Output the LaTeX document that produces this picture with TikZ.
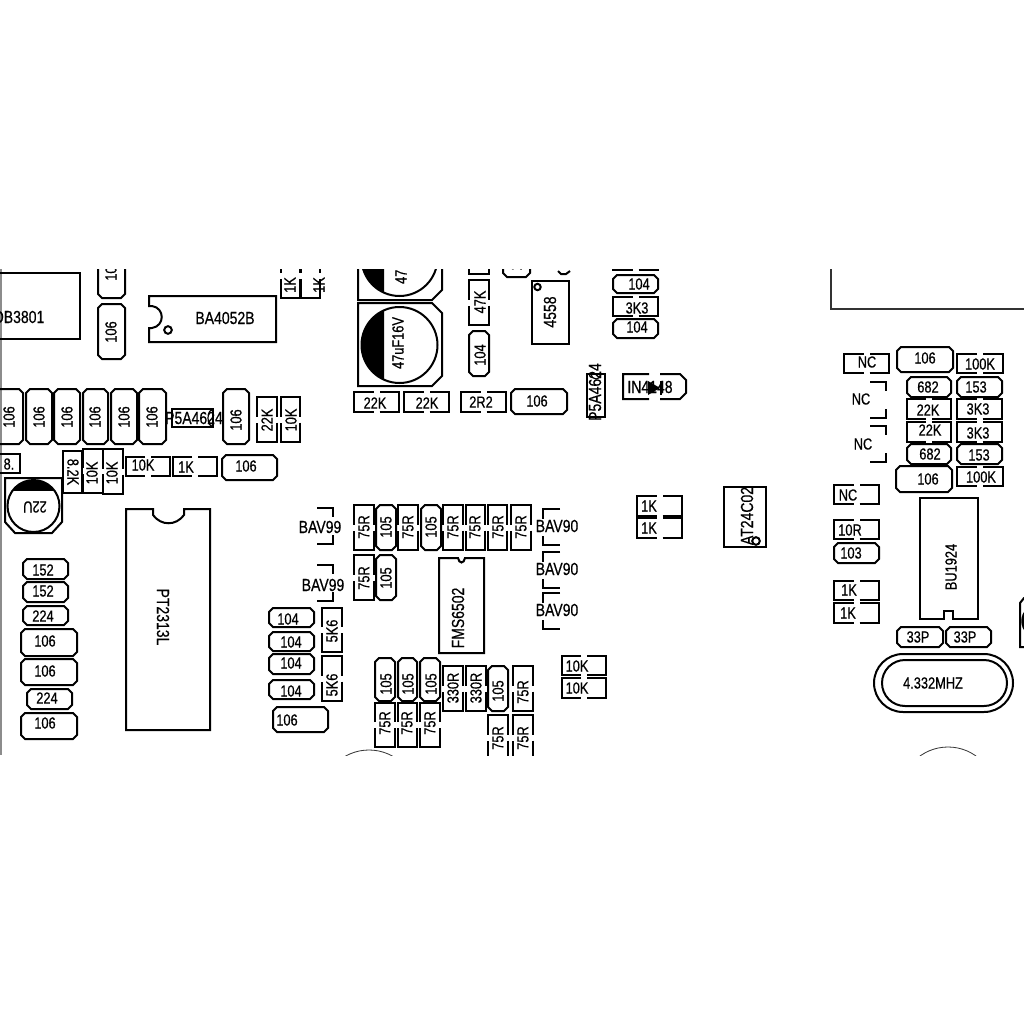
\documentclass[tikz,border=0pt]{standalone}
\usepackage{fontspec}
\setmainfont[FakeStretch=0.8,FakeBold=0.5]{Liberation Sans}
\usepackage{xcolor}
\usepackage{tikz}
\usetikzlibrary{calc}
\tikzset{
    part/.style={line width=2pt, line join=miter, black},
    lbl/.style={inner sep=0pt, font=\fontsize{16}{16}\selectfont},
    biglbl/.style={inner sep=0pt, font=\fontsize{17.5}{17.5}\selectfont},
    thinline/.style={line width=0.8pt, black!80},
}
\begin{document}
\begin{tikzpicture}[x=1pt,y=-1pt]
    \useasboundingbox (0,0) rectangle (1024,1024);
    \fill[white] (0,0) rectangle (1024,1024);
    \begin{scope}
    \clip (0,269) rectangle (1024,755);
    \draw[line width=2pt, black!45] (1,269) -- (1,755);

    % chamfered capacitors: x1/y1/x2/y2/label x/label y/angle/text
    \foreach \xa/\ya/\xb/\yb/\tx/\ty/\rot/\txt [count=\i] in {
        98/242/125/298/111/270/90/106, 98/304/125/359/111/332/90/106,
        -5/389/23/444/9/417/90/106, 26/389/52/444/39/417/90/106,
        54/389/80/444/67/417/90/106, 83/389/108/444/95/417/90/106,
        111/389/137/444/124/417/90/106, 139/389/166/444/152/417/90/106,
        223/389/249/444/236/420/90/106, 222/455/277/480/246/466/0/106,
        23/559/68/579/43/570/0/152, 23/582/68/602/43/591/0/152,
        23/606/68/625/43/616/0/224, 21/629/77/656/45/641/0/106,
        21/659/77/685/45/671/0/106, 27/689/72/709/47/698/0/224,
        21/713/77/739/45/723/0/106, 269/608/314/627/288/619/0/104,
        269/632/314/651/291/642/0/104, 269/654/314/674/291/663/0/104,
        269/680/314/699/291/691/0/104, 273/707/328/732/287/720/0/106,
        469/331/489/376/480/355/90/104, 503/250/530/277/516/260/90/106,
        613/275/658/293/639/284/0/104, 613/319/658/338/637/327/0/104,
        511/389/567/414/537/401/0/106, 376/505/396/550/386/527/90/105,
        421/505/441/550/431/527/90/105, 376/555/396/600/386/578/90/105,
        375/658/395/701/386/684/90/105, 398/658/417/701/408/684/90/105,
        420/658/440/701/431/684/90/105, 488/666/508/711/498/691/90/105,
        897/347/953/372/925/358/0/106, 907/377/951/397/928/387/0/682,
        957/377/1002/397/976/387/0/153, 907/444/951/464/930/454/0/682,
        957/444/1002/464/979/455/0/153, 896/466/952/492/928/479/0/106,
        834/543/879/563/851/553/0/103, 897/627/943/647/918/637/0/33P,
        946/627/991/647/965/637/0/33P}
    {
        \draw[part] (\xa+4,\ya) -- (\xb-4,\ya) -- (\xb,\ya+4) -- (\xb,\yb-4)
            -- (\xb-4,\yb) -- (\xa+4,\yb) -- (\xa,\yb-4) -- (\xa,\ya+4) -- cycle;
        \node[lbl, rotate=\rot] (cap\i) at (\tx,\ty) {\txt};
    }

    % flat resistors, gap in top and bottom
    \foreach \xa/\ya/\xb/\yb/\tx/\ty/\txt [count=\i] in {
        126/457/170/476/143/465/10K, 173/457/217/476/186/467/1K,
        613/297/658/316/637/308/3K3, 613/248/658/270/636/259/104,
        354/392/399/412/375/403/22K, 404/392/449/412/427/403/22K,
        461/392/506/412/481/402/2R2, 562/656/606/675/577/666/10K,
        562/678/606/698/577/688/10K, 637/496/682/516/649/506/1K,
        637/518/682/538/649/528/1K, 844/354/889/373/867/362/NC,
        957/354/1003/373/980/364/100K, 907/399/951/419/928/410/22K,
        957/399/1002/419/978/409/3K3, 907/422/951/442/930/430/22K,
        957/422/1002/442/978/433/3K3, 957/467/1003/486/981/477/100K,
        834/485/879/504/848/495/NC, 834/520/879/539/850/530/10R,
        834/581/879/600/849/590/1K, 834/603/879/623/848/613/1K}
    {
        \pgfmathsetmacro{\mx}{(\xa+\xb)/2}
        \draw[part] (\mx-3,\ya) -| (\xa,\yb) -- (\mx-3,\yb)
            (\mx+3,\yb) -| (\xb,\ya) -- (\mx+3,\ya);
        \node[lbl] (res\i) at (\tx,\ty) {\txt};
    }

    % upright resistors, gap in left and right
    \foreach \xa/\ya/\xb/\yb/\tx/\ty/\txt [count=\i] in {
        281/254/300/298/290/285/1K, 301/254/320/298/319/285/1K,
        257/397/277/442/267/420/22K, 281/397/300/442/291/420/10K,
        83/449/103/493/92/473/10K, 103/449/123/494/112/473/10K,
        322/608/342/652/332/631/5K6, 322/656/342/701/332/685/5K6,
        469/280/489/325/480/302/47K, 469/230/489/274/480/252/47K,
        354/505/374/550/364/527/75R, 398/505/418/550/408/527/75R,
        443/505/463/550/453/527/75R, 466/505/485/550/475/527/75R,
        488/505/507/550/498/527/75R, 511/505/531/550/521/527/75R,
        354/555/374/600/364/578/75R, 443/666/463/711/453/688/330R,
        466/666/486/711/476/688/330R, 513/666/533/711/523/692/75R,
        375/703/395/747/385/723/75R, 398/703/417/747/407/723/75R,
        420/703/440/747/430/723/75R, 488/715/508/760/498/738/75R,
        513/715/533/760/523/738/75R}
    {
        \pgfmathsetmacro{\my}{(\ya+\yb)/2}
        \draw[part] (\xa,\my-3) |- (\xb,\ya) -- (\xb,\my-3)
            (\xb,\my+3) |- (\xa,\yb) -- (\xa,\my+3);
        \node[lbl, rotate=90] (vres\i) at (\tx,\ty) {\txt};
    }
    \draw[part] (63,451) rectangle (82,493);
    \node[lbl, rotate=-90] (res82k) at (73,472) {8.2K};
    \draw[part] (-5,454) rectangle (20,473);
    \node[lbl] (res8) at (9,464) {8.};

    % diode pairs
    \foreach \x/\y/\txt/\tx/\ty/\sty [count=\i] in {
        333/508/BAV99/320/527/biglbl, 333/565/BAV99/323/585/biglbl,
        886/382/NC/861/399/lbl, 886/426/NC/863/444/lbl}
    {
        \draw[part] (\x-16,\y) -| (\x,\y+9) (\x,\y+27) |- (\x-16,\y+36);
        \node[\sty] (dl\i) at (\tx,\ty) {\txt};
    }
    \foreach \y [count=\i] in {509,552,593}
    {
        \draw[part] (560,\y) -| (543,\y+10) (543,\y+27) |- (560,\y+36);
        \node[biglbl] (dr\i) at (557,\y+17) {BAV90};
    }

    % chips
    \draw[part] (-20,273) rectangle (80,339);
    \node[biglbl] (dbchip) at (19,317) {DB3801};
    \draw[part] (149,296) -- (276,296) -- (276,342) -- (149,342) -- (149,328) -- (152,328)
        .. controls (165,326) and (165,308) .. (152,306) -- (149,306) -- cycle;
    \draw[part] (168,330) circle (3.8);
    \node[biglbl] (bachip) at (225,318) {BA4052B};
    \draw[part] (126,509) -- (153,509) -- (153,515)
        .. controls (161,526) and (176,526) .. (184,515) -- (184,509) -- (210,509)
        -- (210,730) -- (126,730) -- cycle;
    \node[biglbl, rotate=-90] (ptchip) at (163,617) {PT2313L};
    \draw[part] (532,281) rectangle (569,344);
    \draw[part] (537.5,287) circle (3.2);
    \node[biglbl, rotate=90] (opchip) at (550,312) {4558};
    \draw[part] (439,558) -- (458,558) .. controls (459,564) and (464,564) .. (465,558)
        -- (484,558) -- (484,653) -- (439,653) -- cycle;
    \node[biglbl, rotate=90] (fmschip) at (458,618) {FMS6502};
    \draw[part] (724,487) rectangle (766,547);
    \draw[part] (756,541) circle (3.8);
    \node[biglbl, rotate=90] (atchip) at (747,516) {AT24C02};
    \draw[part] (920,498) -- (978,498) -- (978,619) -- (953,619) -- (953,611) -- (944,611)
        -- (944,619) -- (920,619) -- cycle;
    \node[lbl, rotate=90] (buchip) at (951,567) {BU1924};

    % small sop parts with text running over them
    \draw[part] (172,409) rectangle (213,427);
    \draw[line width=1.2pt] (212,426) arc[start angle=90, end angle=270, x radius=4, y radius=8];
    \node[biglbl] (sopa) at (194,418) {P5A4624};
    \draw[part] (587,374) rectangle (605,417);
    \draw[line width=1.2pt] (601,374) arc[start angle=0, end angle=180, radius=5];
    \node[biglbl, rotate=90] (sopb) at (595,392) {P5A4624};
    \draw[part] (649,374) -| (623,399) -- (649,399) (660,399) -- (680,399) -- (686,393)
        -- (686,380) -- (680,374) -- (660,374);
    \node[biglbl] (diode) at (650,387) {IN4148};
    \fill (648,381) -- (660,388) -- (648,395) -- cycle;
    \draw[line width=2pt] (661,381) -- (661,395);

    % electrolytics
    \draw[part] (358,303) -- (432,303) -- (442,313) -- (442,376) -- (432,386) -- (358,386) -- cycle;
    \draw[part] (399.5,345) circle (38);
    \begin{scope}
        \clip (350,300) rectangle (384,390);
        \fill (399.5,345) circle (38);
    \end{scope}
    \node[lbl, rotate=90] (elcb) at (398,343) {47uF16V};
    \draw[part] (358,216) -- (432,216) -- (442,226) -- (442,290) -- (432,300) -- (358,300) -- cycle;
    \draw[part] (399.5,258) circle (38);
    \begin{scope}
        \clip (350,210) rectangle (384,300);
        \fill (399.5,258) circle (38);
    \end{scope}
    \node[lbl, rotate=90] (elca) at (401,258) {47uF16V};
    \draw[part] (5,478) -- (62,478) -- (62,522) -- (52,533) -- (15,533) -- (5,522) -- cycle;
    \draw[part] (33.5,506) circle (26);
    \begin{scope}
        \clip (0,470) rectangle (70,490);
        \fill (33.5,506) circle (26);
    \end{scope}
    \node[lbl, rotate=180] (elcc) at (35,507) {22U};

    % crystal
    \draw[part] (903,654) -- (984,654) arc[start angle=-90, end angle=90, radius=29]
        -- (903,712) arc[start angle=90, end angle=270, radius=29] -- cycle;
    \draw[part] (905,660) -- (984,660) arc[start angle=-90, end angle=90, radius=23]
        -- (905,706) arc[start angle=90, end angle=270, radius=23] -- cycle;
    \node[lbl] (xtal) at (933,683) {4.332MHZ};

    % cut off at the edges
    \draw[thinline, line width=1.4pt] (831,269) -- (831,309) -- (1024,309);
    \draw[part] (1030,598) -- (1024,598) -- (1020,603) -- (1020,647) -- (1030,647);
    \draw[line width=2.5pt] (1038,621) circle (15.5);
    \draw[thinline] (369,798) circle (48);
    \draw[thinline] (948,795) circle (48);
    \draw[part] (558,271) -- (561,274) -- (566,274) -- (570,271);
    \end{scope}
\end{tikzpicture}
\end{document}
